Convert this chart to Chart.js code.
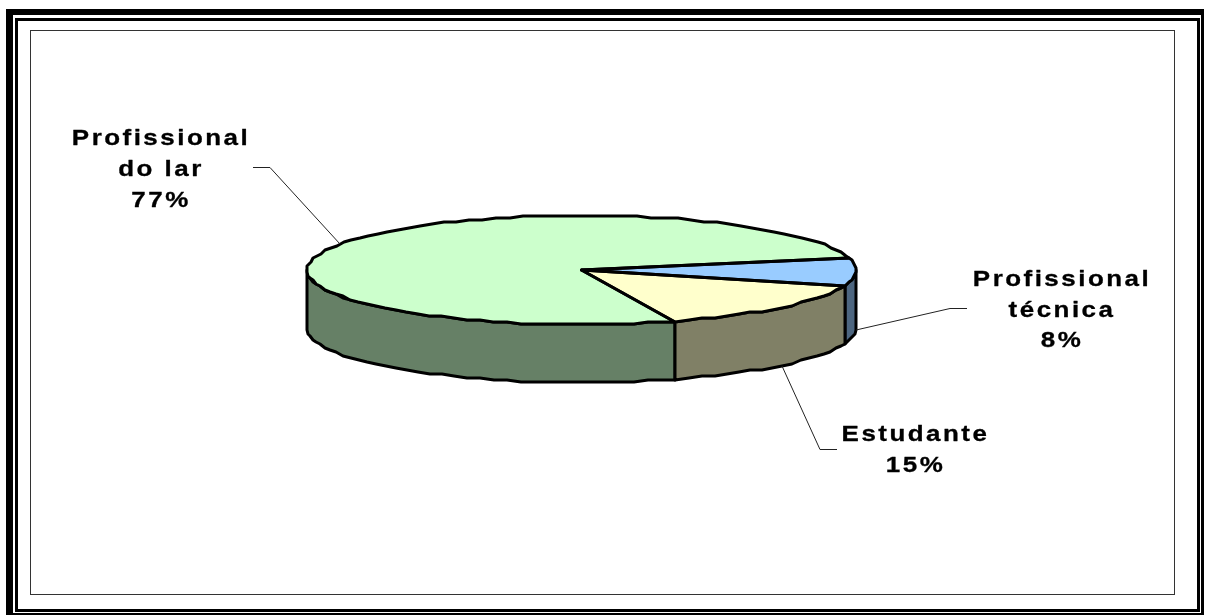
<!DOCTYPE html>
<html>
<head>
<meta charset="utf-8">
<style>
  html, body { margin: 0; padding: 0; background: #fff; overflow: hidden; }
  #wrap { position: relative; width: 1205px; height: 615px; }
  canvas { display: block; }
</style>
<script src="https://cdn.jsdelivr.net/npm/chart.js@4/dist/chart.umd.min.js"></script>
</head>
<body>
<div id="wrap"><canvas id="pie" width="1205" height="615"></canvas></div>
<script>
// Occupation shares, clockwise from the front of the disc
const categories = ['Profissional do lar', 'Profissional técnica', 'Estudante'];
const shares = [77, 8, 15];
const labelLines = [['Profissional', 'do lar'], ['Profissional', 'técnica'], ['Estudante']];
const topColors = ['#CCFFCC', '#99CCFF', '#FFFFCC'];
const wallColors = ['#668066', '#4D6680', '#808066'];

// Disc proportions and callout placement
const RADIUS = 274.5;
const SQUASH = 54.5 / 274.5;
const DEPTH = 58;
const OUTLINE = 3;
const callouts = [
  { x: 161, y: 145, lineGap: 31, elbow: [270, 167], end: [253, 167], onWall: false },
  { x: 1062, y: 286, lineGap: 30.5, elbow: [950, 308], end: [967, 308], onWall: true },
  { x: 915.5, y: 441, lineGap: 31, elbow: [820, 449], end: [837, 449], onWall: true }
];

// Point on the rim of the flattened disc, snapped to a coarse grid for a stepped edge
function rim(arc, angle, drop) {
  return [
    Math.round(arc.x + RADIUS * Math.cos(angle)),
    Math.round((arc.y + RADIUS * SQUASH * Math.sin(angle)) / 2) * 2 + (drop || 0)
  ];
}

function rimPoints(arc, from, to, drop) {
  const step = Math.PI / 60;
  const pts = [];
  const n = Math.max(1, Math.ceil((to - from) / step));
  for (let i = 0; i <= n; i++) pts.push(rim(arc, from + (to - from) * i / n, drop));
  return pts;
}

function tracePoints(ctx, pts, start) {
  pts.forEach((p, i) => (i === 0 && start) ? ctx.moveTo(p[0], p[1]) : ctx.lineTo(p[0], p[1]));
}

// Parts of a slice that face the viewer (angles between 0 and PI)
function frontSpans(arc) {
  const spans = [];
  for (const turn of [0, 2 * Math.PI, -2 * Math.PI]) {
    const a = Math.max(arc.startAngle, turn);
    const b = Math.min(arc.endAngle, turn + Math.PI);
    if (b > a) spans.push([a, b]);
  }
  return spans;
}

const disc3d = {
  id: 'disc3d',
  beforeDraw(chart) {
    const ctx = chart.ctx;
    ctx.save();
    ctx.fillStyle = '#000';
    // double page border
    ctx.fillRect(6, 9, 1198, 6);
    ctx.fillRect(6, 9, 7, 604);
    ctx.fillRect(15, 18, 1182, 3);
    ctx.fillRect(15, 18, 3, 592);
    ctx.fillRect(15, 609, 1182, 3);
    ctx.fillRect(1197, 18, 3, 594);
    ctx.fillRect(1201, 9, 3, 606);
    ctx.fillRect(6, 613, 1198, 2);
    // chart area border
    ctx.strokeStyle = '#333';
    ctx.lineWidth = 1;
    ctx.strokeRect(30.5, 30.5, 1144, 564);
    ctx.restore();
  },
  beforeDatasetsDraw(chart) {
    const ctx = chart.ctx;
    const arcs = chart.getDatasetMeta(0).data;
    ctx.save();
    ctx.lineJoin = 'round';
    ctx.strokeStyle = '#000';
    ctx.lineWidth = OUTLINE;
    // side walls behind the top face
    arcs.forEach((arc, i) => {
      frontSpans(arc).forEach(([a, b]) => {
        ctx.beginPath();
        tracePoints(ctx, rimPoints(arc, a, b, 0), true);
        tracePoints(ctx, rimPoints(arc, a, b, DEPTH).reverse(), false);
        ctx.closePath();
        ctx.fillStyle = wallColors[i];
        ctx.fill();
        ctx.stroke();
      });
    });
    ctx.restore();
  },
  beforeDatasetDraw(chart) {
    // flatten the circular slices into the disc's top face
    const ctx = chart.ctx;
    const arc = chart.getDatasetMeta(0).data[0];
    ctx.save();
    ctx.translate(arc.x, arc.y);
    ctx.scale(1, SQUASH);
    ctx.translate(-arc.x, -arc.y);
  },
  afterDatasetDraw(chart) {
    chart.ctx.restore();
  },
  afterDatasetsDraw(chart) {
    const ctx = chart.ctx;
    const arcs = chart.getDatasetMeta(0).data;
    ctx.save();
    ctx.lineJoin = 'round';
    ctx.strokeStyle = '#000';
    ctx.lineWidth = OUTLINE;
    // slice outlines, stroked unflattened so the pen keeps its width
    arcs.forEach(arc => {
      ctx.beginPath();
      ctx.moveTo(arc.x, arc.y);
      tracePoints(ctx, rimPoints(arc, arc.startAngle, arc.endAngle, 0), false);
      ctx.closePath();
      ctx.stroke();
    });
    // callouts
    arcs.forEach((arc, i) => {
      const c = callouts[i];
      const mid = (arc.startAngle + arc.endAngle) / 2;
      const from = rim(arc, mid, c.onWall ? DEPTH : 0);
      ctx.lineWidth = 1;
      ctx.strokeStyle = '#222';
      ctx.beginPath();
      ctx.moveTo(from[0], from[1]);
      ctx.lineTo(c.elbow[0], c.elbow[1] + 0.5);
      ctx.lineTo(c.end[0], c.end[1] + 0.5);
      ctx.stroke();
      const lines = labelLines[i].concat(shares[i] + '%');
      ctx.fillStyle = '#000';
      ctx.strokeStyle = '#000';
      ctx.lineWidth = 0.3;
      ctx.textAlign = 'center';
      ctx.textBaseline = 'alphabetic';
      ctx.font = 'bold 22px "Liberation Sans", Arial, sans-serif';
      ctx.letterSpacing = '2.1px';
      lines.forEach((text, k) => {
        ctx.save();
        ctx.translate(c.x, c.y + k * c.lineGap);
        ctx.scale(1.18, 1);
        ctx.fillText(text, 0, 0);
        ctx.strokeText(text, 0, 0);
        ctx.restore();
      });
    });
    ctx.restore();
  }
};

new Chart(document.getElementById('pie'), {
  type: 'pie',
  data: {
    labels: categories,
    datasets: [{
      data: shares,
      backgroundColor: topColors,
      borderWidth: 0,
      radius: RADIUS,
      rotation: 160
    }]
  },
  options: {
    responsive: false,
    animation: false,
    layout: { padding: { left: 0, top: 0, right: 42, bottom: 75 } },
    plugins: { legend: { display: false }, tooltip: { enabled: false }, title: { display: false } }
  },
  plugins: [disc3d]
});
</script>
</body>
</html>
